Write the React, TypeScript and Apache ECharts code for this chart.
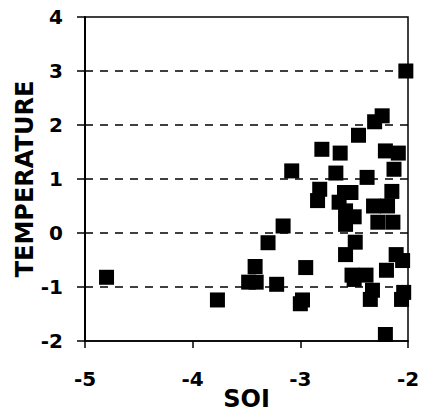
import React, { useEffect, useRef } from "react";
import * as echarts from "echarts";

const soi: number[] = [
  -2.02, -4.8, -3.77, -3.42, -3.48, -3.41, -3.3, -3.22, -3.16, -3.08,
  -2.95, -2.98, -3.0, -2.82, -2.84, -2.8, -2.63, -2.67, -2.59, -2.53,
  -2.64, -2.58, -2.5, -2.58, -2.49, -2.58, -2.52, -2.39, -2.5, -2.46,
  -2.31, -2.24, -2.21, -2.09, -2.38, -2.13, -2.15, -2.32, -2.19, -2.28,
  -2.14, -2.11, -2.05, -2.2, -2.33, -2.35, -2.04, -2.06, -2.21,
];
const temperature: number[] = [
  3.0, -0.82, -1.24, -0.62, -0.91, -0.91, -0.18, -0.95, 0.13, 1.15,
  -0.64, -1.24, -1.31, 0.81, 0.6, 1.55, 1.48, 1.11, 0.75, 0.75,
  0.57, 0.41, 0.3, 0.16, -0.17, -0.4, -0.78, -0.78, -0.86, 1.81,
  2.06, 2.17, 1.52, 1.48, 1.03, 1.18, 0.77, 0.5, 0.5, 0.2,
  0.2, -0.4, -0.51, -0.69, -1.06, -1.23, -1.1, -1.23, -1.88,
];
const xName = "SOI";
const yName = "TEMPERATURE";

export default function App() {
  const ref = useRef<HTMLDivElement>(null);
  useEffect(() => {
    if (!ref.current) return;
    const chart = echarts.init(ref.current, null, { renderer: "svg" });
    const font = "DejaVu Sans";
    chart.setOption({
      animation: false,
      backgroundColor: "#fff",
      grid: {
        left: 85,
        right: 18,
        top: 17,
        bottom: 72,
        show: true,
        borderColor: "#000",
        borderWidth: 1.5,
        containLabel: false,
        outerBoundsMode: "none",
      },
      xAxis: {
        type: "value",
        min: -5,
        max: -2,
        interval: 1,
        name: xName,
        nameLocation: "middle",
        nameGap: 46,
        nameMoveOverlap: false,
        nameTextStyle: { fontFamily: font, fontWeight: "bold", fontSize: 24, color: "#000" },
        axisLine: { show: true, onZero: false, lineStyle: { color: "#000", width: 1.5 } },
        axisTick: { show: true, inside: false, length: 7, lineStyle: { color: "#000", width: 1.5 } },
        axisLabel: { margin: 28, fontFamily: font, fontWeight: "bold", fontSize: 20, color: "#000" },
        splitLine: { show: false },
      },
      yAxis: {
        type: "value",
        min: -2,
        max: 4,
        interval: 1,
        name: yName,
        nameLocation: "middle",
        nameGap: 48,
        nameMoveOverlap: false,
        nameTextStyle: { fontFamily: font, fontWeight: "bold", fontSize: 24, color: "#000" },
        axisLine: { show: true, onZero: false, lineStyle: { color: "#000", width: 2 } },
        axisTick: { show: true, inside: false, length: 8, lineStyle: { color: "#000", width: 1.5 } },
        axisLabel: { margin: 22, fontFamily: font, fontWeight: "bold", fontSize: 20, color: "#000" },
        splitLine: {
          show: true,
          showMinLine: false,
          showMaxLine: false,
          lineStyle: { color: "#000", width: 1.5, type: [8, 7] },
        },
      },
      series: [
        {
          type: "scatter",
          symbol: "rect",
          symbolSize: 15,
          itemStyle: { color: "#000", opacity: 1 },
          data: soi.map((x, i) => [x, temperature[i]]),
          clip: false,
        },
      ],
    });
    return () => chart.dispose();
  }, []);
  return (
    <div
      ref={ref}
      style={{ position: "absolute", left: 0, top: 0, width: 426, height: 413 }}
    />
  );
}
